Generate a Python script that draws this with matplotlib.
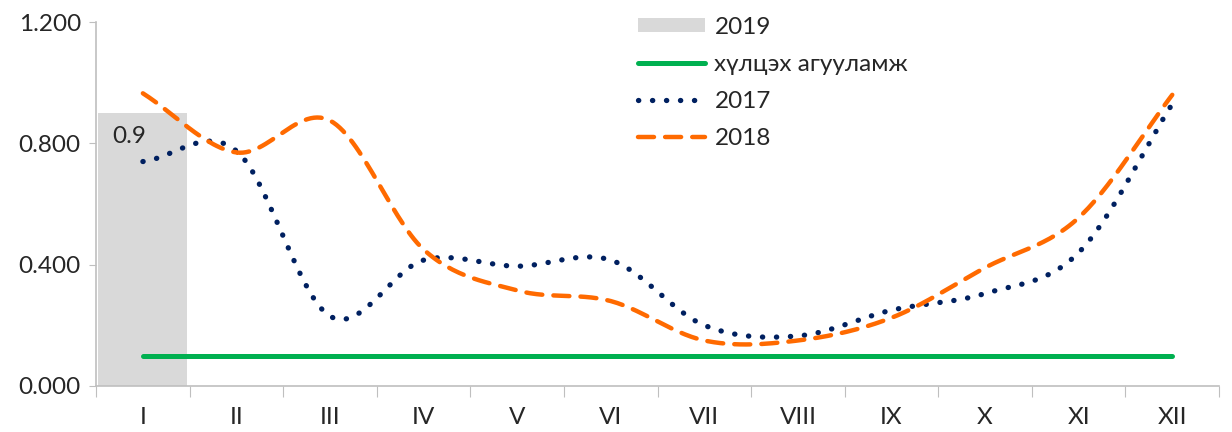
import matplotlib.pyplot as plt
import numpy as np

months = ['I', 'II', 'III', 'IV', 'V', 'VI', 'VII', 'VIII', 'IX', 'X', 'XI', 'XII']
y2019 = [0.9, np.nan, np.nan, np.nan, np.nan, np.nan, np.nan, np.nan, np.nan, np.nan, np.nan, np.nan]
tolerance = [0.1, 0.1, 0.1, 0.1, 0.1, 0.1, 0.1, 0.1, 0.1, 0.1, 0.1, 0.1]
y2017 = [0.74, 0.775, 0.23, 0.415, 0.395, 0.415, 0.2, 0.165, 0.25, 0.305, 0.44, 0.93]
y2018 = [0.965, 0.77, 0.875, 0.45, 0.315, 0.28, 0.15, 0.15, 0.225, 0.39, 0.555, 0.96]

plt.rcParams['font.family'] = ['Lato', 'DejaVu Sans']


def smooth(xs, ys, n=30):
    # Catmull-Rom curve through the points, like Excel's smoothed line
    xs = np.asarray(xs, float)
    ys = np.asarray(ys, float)
    px = np.concatenate([[2 * xs[0] - xs[1]], xs, [2 * xs[-1] - xs[-2]]])
    py = np.concatenate([[2 * ys[0] - ys[1]], ys, [2 * ys[-1] - ys[-2]]])
    out_x, out_y = [], []
    t = np.linspace(0, 1, n)
    for i in range(1, len(px) - 2):
        for p, out in ((px, out_x), (py, out_y)):
            p0, p1, p2, p3 = p[i - 1], p[i], p[i + 1], p[i + 2]
            seg = 0.5 * ((2 * p1) + (-p0 + p2) * t + (2 * p0 - 5 * p1 + 4 * p2 - p3) * t ** 2
                         + (-p0 + 3 * p1 - 3 * p2 + p3) * t ** 3)
            out.extend(seg)
    return np.array(out_x), np.array(out_y)


x = np.arange(len(months))

fig = plt.figure(figsize=(12.32, 4.32), dpi=100)
ax = fig.add_axes([0.078, 0.1065, 0.9115, 0.8425])

bars = ax.bar(x, y2019, width=0.95, color='#d9d9d9', label='2019', zorder=1)
ax.annotate('0.9', (x[0], y2019[0]), xytext=(-10, -17), textcoords='offset points',
            ha='center', va='center', fontsize=17.5, color='#262626')

l_tol, = ax.plot(x, tolerance, color='#00b050', lw=3.6, solid_capstyle='round',
                 label='хүлцэх агууламж', zorder=3)

sx, sy = smooth(x, y2017)
l17, = ax.plot(sx, sy, color='#002060', lw=3.8, linestyle=(0, (0.05, 2.6)),
               dash_capstyle='round', label='2017', zorder=3)

sx, sy = smooth(x, y2018)
l18, = ax.plot(sx, sy, color='#ff6a00', lw=3.2, linestyle=(0, (3.6, 2.5)),
               dash_capstyle='round', label='2018', zorder=4)

ax.set_xlim(-0.5, len(months) - 0.5)
ax.set_ylim(0, 1.2)
ax.set_yticks([0, 0.4, 0.8, 1.2])
ax.set_yticklabels(['0.000', '0.400', '0.800', '1.200'])

ax.set_xticks(np.arange(-0.5, len(months), 1))
ax.set_xticklabels([])
ax.set_xticks(x, minor=True)
ax.set_xticklabels(months, minor=True)
ax.tick_params(axis='x', which='major', length=8, color='#bfbfbf')
ax.tick_params(axis='x', which='minor', length=0, pad=15, labelsize=17.5, labelcolor='#262626')
ax.tick_params(axis='y', length=5, color='#bfbfbf', labelsize=17.5, labelcolor='#262626', pad=6)

for side in ['top', 'right']:
    ax.spines[side].set_visible(False)
for side in ['left', 'bottom']:
    ax.spines[side].set_color('#bfbfbf')
    ax.spines[side].set_linewidth(1.2)

leg = ax.legend([bars, l_tol, l17, l18], ['2019', 'хүлцэх агууламж', '2017', '2018'],
                loc='upper left', bbox_to_anchor=(0.463, 1.075), frameon=False,
                fontsize=17.5, handlelength=2.75, handleheight=0.55, labelspacing=0.66,
                handletextpad=0.4)
for t in leg.get_texts():
    t.set_color('#262626')

fig.savefig('out.png', dpi=100)
